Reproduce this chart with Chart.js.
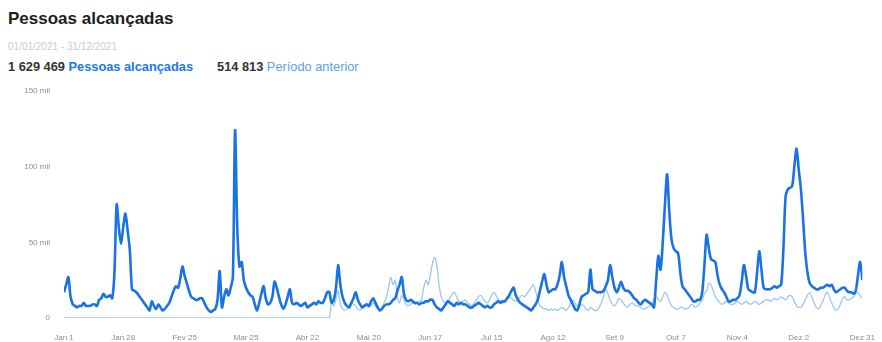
<!DOCTYPE html>
<html>
<head>
<meta charset="utf-8">
<script src="https://cdn.jsdelivr.net/npm/chart.js@4"></script>
<style>
  body { margin: 0; background: #fff; font-family: "Liberation Sans", Arial, sans-serif; }
  #wrap { position: relative; width: 882px; height: 342px; overflow: hidden; }
  .title { position: absolute; left: 8px; top: 9px; font-size: 17px; font-weight: bold; color: #1c1e21; }
  .dates { position: absolute; left: 8px; top: 41px; font-size: 10px; color: #c8ccd0; }
  .totals { position: absolute; left: 8px; top: 59px; font-size: 12.8px; color: #333; white-space: nowrap; }
  .totals b { font-weight: bold; }
  .cur { color: #1877f2; font-weight: 600; }
  .prev { color: #5aa3f0; }
  .gap { display: inline-block; width: 24px; }
  #box { position: absolute; left: 0; top: 80px; width: 882px; height: 262px; }
</style>
</head>
<body>
<div id="wrap">
  <div class="title">Pessoas alcançadas</div>
  <div class="dates">01/01/2021 - 31/12/2021</div>
  <div class="totals"><b>1 629 469</b> <span class="cur">Pessoas alcançadas</span><span class="gap"></span><b>514 813</b> <span class="prev">Período anterior</span></div>
  <div id="box"><canvas id="graph"></canvas></div>
</div>
<script>
// Tick labels on the date axis (day index from Jan 1)
const tickDays = [0, 27, 55, 83, 111, 139, 167, 195, 223, 251, 279, 307, 335, 364];
const tickLabels = ['Jan 1', 'Jan 28', 'Fev 25', 'Mar 25', 'Abr 22', 'Mai 20', 'Jun 17',
  'Jul 15', 'Ago 12', 'Set 9', 'Out 7', 'Nov 4', 'Dez 2', 'Dez 31'];

// Daily reach, thousands (one row per 28 days)
const reachCurrent = [
  17, 22, 27, 14, 9, 8, 7, 8, 8, 10, 8, 8, 8, 9, 9, 8, 12, 13, 16, 14, 14, 15, 13, 30, 75, 60, 49, 60,
  69, 58, 45, 19, 18, 17, 15, 13, 11, 9, 7, 5, 11, 8, 6, 9, 7, 5, 6, 8, 10, 14, 18, 21, 20, 26, 34, 28,
  23, 18, 14, 13, 12, 12, 13, 13, 10, 7, 5, 4, 5, 6, 12, 31, 7, 14, 19, 15, 20, 27, 124, 60, 34, 37, 25, 20,
  17, 15, 14, 9, 5, 10, 16, 21, 13, 9, 10, 14, 24, 20, 14, 9, 6, 9, 14, 19, 10, 9, 10, 9, 8, 9, 10, 7,
  8, 9, 10, 9, 11, 10, 10, 13, 17, 17, 10, 12, 20, 35, 22, 14, 10, 8, 7, 10, 13, 17, 12, 9, 7, 8, 9, 8,
  11, 13, 10, 7, 5, 6, 8, 9, 9, 10, 12, 13, 18, 22, 27, 16, 12, 11, 12, 11, 10, 10, 9, 10, 10, 11, 11, 12,
  12, 9, 7, 6, 5, 7, 9, 11, 10, 9, 8, 10, 9, 10, 9, 9, 8, 7, 7, 8, 9, 10, 9, 8, 7, 8, 7, 7,
  9, 10, 11, 10, 11, 11, 13, 15, 18, 20, 15, 12, 10, 9, 8, 7, 6, 5, 7, 9, 12, 18, 24, 29, 22, 17, 18, 19,
  19, 22, 28, 37, 27, 21, 15, 12, 9, 6, 5, 9, 14, 15, 16, 17, 32, 19, 18, 17, 17, 17, 18, 21, 25, 35, 27, 20,
  17, 20, 24, 20, 18, 18, 17, 15, 13, 12, 10, 9, 11, 12, 11, 10, 9, 7, 25, 41, 32, 50, 75, 95, 70, 52, 46, 44,
  43, 30, 21, 19, 17, 15, 13, 11, 11, 12, 12, 17, 35, 55, 46, 39, 38, 37, 28, 22, 19, 17, 14, 11, 11, 12, 12, 13,
  15, 24, 35, 28, 19, 18, 17, 17, 30, 44, 32, 20, 19, 19, 19, 20, 21, 20, 21, 22, 45, 80, 85, 86, 87, 100, 112, 98,
  85, 65, 43, 30, 23, 21, 20, 19, 19, 20, 20, 21, 22, 21, 22, 19, 17, 18, 19, 20, 20, 18, 17, 17, 16, 18, 28, 37,
  25
];

// Previous period, thousands
const reachPrevious = [
  0, 0, 0, 0, 0, 0, 0, 0, 0, 0, 0, 0, 0, 0, 0, 0, 0, 0, 0, 0, 0, 0, 0, 0, 0, 0, 0, 0,
  0, 0, 0, 0, 0, 0, 0, 0, 0, 0, 0, 0, 0, 0, 0, 0, 0, 0, 0, 0, 0, 0, 0, 0, 0, 0, 0, 0,
  0, 0, 0, 0, 0, 0, 0, 0, 0, 0, 0, 0, 0, 0, 0, 0, 0, 0, 0, 0, 0, 0, 0, 0, 0, 0, 0, 0,
  0, 0, 0, 0, 0, 0, 0, 0, 0, 0, 0, 0, 0, 0, 0, 0, 0, 0, 0, 0, 0, 0, 0, 0, 0, 0, 0, 0,
  0, 0, 0, 0, 0, 0, 0, 0, 0, 0, 10, 8, 12, 18, 9, 6, 5, 6, 8, 10, 9, 8, 6, 5, 7, 9, 8, 7,
  8, 10, 8, 6, 5, 7, 10, 14, 20, 27, 22, 25, 14, 10, 15, 12, 9, 8, 9, 10, 9, 10, 11, 12, 20, 25, 22, 28,
  36, 40, 35, 22, 14, 11, 10, 11, 13, 16, 17, 14, 11, 10, 11, 12, 10, 9, 8, 10, 12, 14, 15, 13, 11, 10, 12, 15,
  17, 15, 12, 11, 10, 11, 12, 14, 13, 12, 11, 12, 14, 15, 14, 16, 18, 20, 22, 18, 12, 8, 7, 6, 6, 5, 6, 5,
  6, 5, 6, 7, 6, 5, 7, 10, 12, 10, 8, 7, 9, 8, 6, 5, 7, 6, 5, 5, 7, 10, 14, 19, 16, 12, 9, 8,
  10, 13, 12, 10, 8, 7, 9, 10, 9, 8, 8, 7, 6, 6, 7, 8, 10, 12, 14, 12, 11, 14, 17, 15, 11, 8, 7, 6,
  6, 7, 7, 6, 6, 7, 9, 8, 7, 8, 10, 12, 16, 18, 23, 22, 18, 14, 12, 10, 9, 10, 11, 10, 9, 9, 10, 11,
  10, 9, 10, 11, 10, 9, 10, 11, 10, 9, 10, 11, 12, 12, 11, 12, 13, 12, 13, 14, 13, 12, 14, 15, 14, 11, 8, 7,
  7, 9, 12, 15, 17, 14, 10, 7, 6, 8, 11, 15, 17, 14, 10, 7, 5, 6, 9, 13, 14, 12, 12, 13, 14, 16, 17, 15,
  13
];

const toPoints = arr => arr.map((v, i) => ({ x: i, y: v }));

const ctx = document.getElementById('graph').getContext('2d');
new Chart(ctx, {
  type: 'line',
  data: {
    datasets: [{
      label: 'Pessoas alcançadas',
      data: toPoints(reachCurrent),
      borderColor: '#1a73e3',
      borderWidth: 2.6,
      pointRadius: 0,
      tension: 0.3,
      order: 0
    }, {
      label: 'Período anterior',
      data: toPoints(reachPrevious),
      borderColor: '#9cc8f4',
      borderWidth: 1.3,
      pointRadius: 0,
      tension: 0.3,
      order: 1
    }]
  },
  options: {
    responsive: true,
    maintainAspectRatio: false,
    animation: false,
    layout: { padding: { top: 11, right: 15, left: 0, bottom: 0 } },
    scales: {
      x: {
        type: 'linear',
        min: 0,
        max: 364,
        grid: { display: false },
        border: { display: false },
        afterBuildTicks: axis => { axis.ticks = tickDays.map(v => ({ value: v })); },
        afterFit: axis => { axis.height = 24; },
        ticks: {
          autoSkip: false,
          maxRotation: 0,
          padding: 7,
          color: '#8a8d91',
          font: { size: 8, family: 'Liberation Sans' },
          callback: v => tickLabels[tickDays.indexOf(v)]
        }
      },
      y: {
        min: 0,
        max: 150,
        grid: { display: false, tickLength: 12 },
        border: { display: false },
        afterFit: axis => { axis.width = 64; },
        ticks: {
          stepSize: 50,
          padding: 2,
          color: '#8a8d91',
          font: { size: 8, family: 'Liberation Sans' },
          callback: v => v === 0 ? '0' : v + ' mil'
        }
      }
    },
    plugins: {
      legend: { display: false },
      tooltip: { enabled: false }
    }
  }
});
</script>
</body>
</html>
